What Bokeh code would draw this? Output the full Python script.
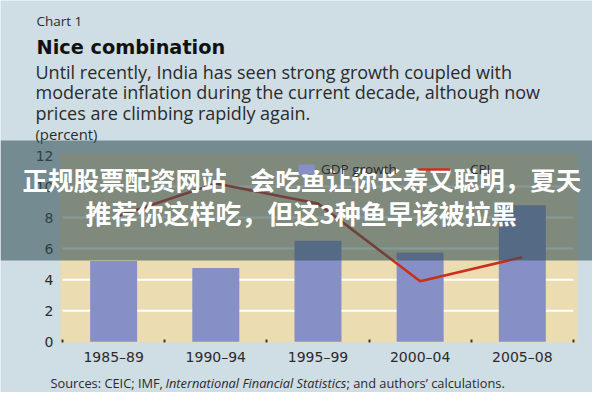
from bokeh.plotting import figure
from bokeh.models import (Range1d, FixedTicker, Label, BoxAnnotation, Legend,
                          LegendItem, ColumnDataSource, LinearAxis)
from bokeh.embed import file_html
from bokeh.resources import INLINE

# ---------------- data ----------------
periods = ["1985–89", "1990–94", "1995–99", "2000–04", "2005–08"]
gdp_growth = [5.2, 4.75, 6.5, 5.75, 8.8]
cpi_inflation = [8.0, 10.2, 8.9, 3.9, 5.45]
y_ticks = [0, 2, 4, 6, 8, 10, 12]
grid_ticks = [2, 4, 6, 8, 10]

chart_number = "Chart 1"
title_text = "Nice combination"
subtitle_lines = [
    "Until recently, India has seen strong growth coupled with",
    "moderate inflation during the current decade, although now",
    "prices are climbing rapidly again.",
]
unit_text = "(percent)"
source_parts = ["Sources: CEIC; IMF,", "International Financial Statistics",
                "; and authors’ calculations."]
legend_labels = ["GDP growth", "CPI"]
banner_lines = ["正规股票配资网站\u00a0\u00a0\u00a0\u00a0会吃鱼让你长寿又聪明，夏天",
                "推荐你这样吃，但这3种鱼早该被拉黑"]

# ---------------- style / layout ----------------
W, H = 592, 392
BG = "#cfdde5"
PLOT_BG = "#ecdcb2"
BAR = "#8690c6"
LINE = "#cc2e1c"
TEXT = "#2b2b2b"
HEAD_FONT = "Open Sans"
AX_FONT = "DejaVu Sans"

n = len(periods)
xs = list(range(n))
# plot-area rectangle in data units and where it sits on the canvas (px)
plot_x0, plot_x1 = -0.52, n - 0.5 + 0.04
plot_y0, plot_y1 = -0.05, 12.13
PX_L, PX_R, PX_T, PX_B = 60, 577, 153, 342
sx = (PX_R - PX_L) / (plot_x1 - plot_x0)
sy = (PX_B - PX_T) / (plot_y1 - plot_y0)
x_range = Range1d(plot_x0 - PX_L / sx, plot_x1 + (W - PX_R) / sx)
y_range = Range1d(plot_y0 - (H - PX_B) / sy, plot_y1 + PX_T / sy)

src = ColumnDataSource(dict(x=xs, gdp=gdp_growth, cpi=cpi_inflation))

p = figure(width=W, height=H, output_backend="svg", toolbar_location=None,
           title=None, x_range=x_range, y_range=y_range,
           x_axis_location=None, y_axis_location=None,
           min_border=0, min_border_left=0, min_border_right=0,
           min_border_top=0, min_border_bottom=0,
           background_fill_color=BG, border_fill_color=BG,
           outline_line_color=None)
p.xgrid.visible = False
p.ygrid.visible = False

# beige plot area
p.add_layout(BoxAnnotation(left=plot_x0, right=plot_x1, bottom=plot_y0, top=plot_y1,
                           fill_color=PLOT_BG, fill_alpha=1.0, line_alpha=0,
                           level="underlay"))

# white gridlines spanning the category block
p.segment(x0=xs[0] - 0.5, x1=xs[-1] + 0.5, y0=grid_ticks, y1=grid_ticks,
          line_color="white", line_width=2)

bars = p.vbar(x="x", top="gdp", width=0.46, bottom=0, source=src,
              fill_color=BAR, line_color=None)
cpi_line = p.line(x="x", y="cpi", source=src, line_color=LINE, line_width=2.6)

# x axis: labels at centres, small ticks at category boundaries
xa = LinearAxis(fixed_location=plot_y0,
                ticker=FixedTicker(ticks=xs, minor_ticks=[i - 0.5 for i in range(n + 1)]))
xa.major_label_overrides = {i: periods[i] for i in xs}
xa.major_tick_line_color = None
xa.major_tick_in = 0
xa.major_tick_out = 0
xa.minor_tick_line_color = "#3a3a2a"
xa.minor_tick_line_width = 2
xa.minor_tick_in = 3
xa.minor_tick_out = 0
xa.axis_line_color = None
xa.major_label_standoff = 6
xa.major_label_text_font = AX_FONT
xa.major_label_text_font_size = "14px"
xa.major_label_text_color = TEXT
p.add_layout(xa, "below")

ya = LinearAxis(fixed_location=plot_x0, ticker=FixedTicker(ticks=y_ticks))
ya.major_tick_line_color = None
ya.minor_tick_line_color = None
ya.major_tick_in = 0
ya.major_tick_out = 0
ya.axis_line_color = None
ya.major_label_standoff = 7
ya.major_label_text_font = AX_FONT
ya.major_label_text_font_size = "14px"
ya.major_label_text_color = TEXT
p.add_layout(ya, "left")

# legends
def make_legend(label, rend, loc, gw, standoff):
    lg = Legend(items=[LegendItem(label=label, renderers=[rend])], location=loc,
                orientation="horizontal", background_fill_alpha=0,
                border_line_color=None, padding=0, margin=0,
                glyph_width=gw, glyph_height=12, label_standoff=standoff,
                label_text_font=HEAD_FONT, label_text_font_size="13.5px",
                label_text_color=TEXT)
    p.add_layout(lg)

make_legend(legend_labels[0], bars, (296, 214), 20, 5)
make_legend(legend_labels[1], cpi_line, (418, 214), 32, 20)

# texts (canvas coordinates: x from left, y from top)
def add_text(x, y, text, font=HEAD_FONT, size="13px", style="normal",
             color=TEXT, align="left", level="annotation"):
    lab = Label(x=x, y=y, x_units="canvas", y_units="canvas", text=text,
                text_font=font, text_font_size=size, text_font_style=style,
                text_color=color, text_align=align, text_baseline="middle",
                level=level)
    p.add_layout(lab)

add_text(36, 20, chart_number, size="13.5px")
add_text(36, 47, title_text, font="DejaVu Sans", size="19.3px", style="bold", color="#111111")
for i, line in enumerate(subtitle_lines):
    add_text(35, 71.5 + 20.3 * i, line, size="18px")
add_text(35, 133, unit_text, size="14.8px")
add_text(50, 382, source_parts[0], size="12.8px")
add_text(165, 382, source_parts[1], size="12.8px", style="italic")
add_text(346, 382, source_parts[2], size="12.8px")

# semi-transparent banner with white text
band = BoxAnnotation(left=0, right=W, top=140, bottom=260,
                     left_units="canvas", right_units="canvas",
                     top_units="canvas", bottom_units="canvas",
                     fill_color=(50, 80, 85), fill_alpha=0.58,
                     line_color=None, level="overlay")
p.add_layout(band)
add_text(22, 177.5, banner_lines[0], font="Noto Sans CJK SC", size="25.5px",
         style="bold", color="white", level="overlay")
add_text(85, 212, banner_lines[1], font="Noto Sans CJK SC", size="26px",
         style="bold", color="white", level="overlay")

open("out.html", "w").write(file_html(p, INLINE))
